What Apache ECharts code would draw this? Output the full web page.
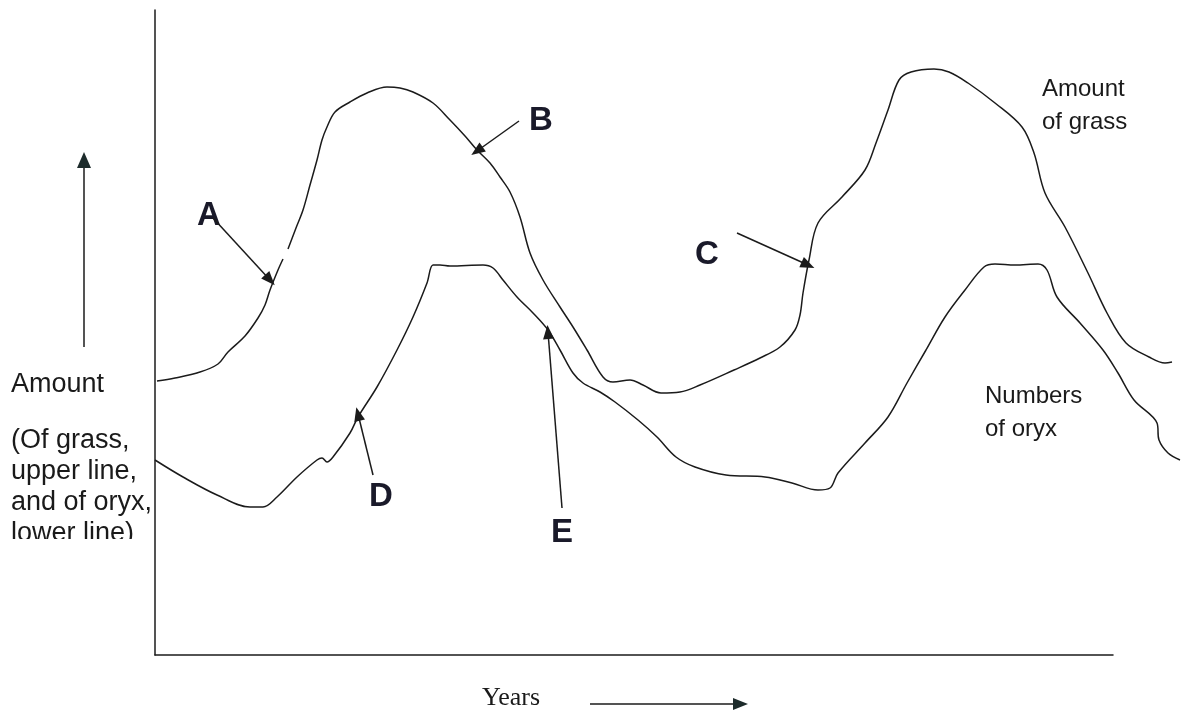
<!DOCTYPE html>
<html>
<head>
<meta charset="utf-8">
<title>Grass and oryx</title>
<script src="https://cdn.jsdelivr.net/npm/echarts@6/dist/echarts.min.js"></script>
<style>
  html, body { margin: 0; padding: 0; background: #fff; }
  #chart { width: 1181px; height: 713px; }
</style>
</head>
<body>
<div id="chart"></div>
<script>
// years run 0..1026, amount 0..645 (arbitrary units, no ticks on the sketch)
const grassX = [2, 20, 45, 63, 73, 90, 103, 110, 115, 123, 128, 130, 133, 141, 148, 155, 162, 167, 172, 180, 195, 212, 232, 245, 258, 278, 295, 310, 322, 335, 345, 355, 365, 375, 388, 405, 418, 432, 448, 458, 475, 488, 506, 525, 545, 579, 605, 625, 640, 645, 648, 654, 663, 687, 710, 721, 733, 744, 756, 779, 794, 813, 840, 867, 879, 890, 910, 933, 952, 971, 994, 1010, 1017];
const grassY = [274, 277, 283, 291, 303, 319, 337, 350, 365, 385, 396, null, 406, 427, 445, 470, 495, 515, 528, 543, 553, 562, 568, 567, 563, 552, 535, 519, 505, 492, 478, 463, 438, 402, 375, 348, 328, 305, 278, 273, 275, 270, 262, 263, 270, 285, 297, 308, 325, 340, 362, 395, 432, 458, 485, 512, 545, 575, 583, 586, 583, 572, 552, 528, 502, 462, 428, 382, 342, 312, 298, 292, 293];

const oryxX = [0, 28, 62, 95, 108, 122, 142, 162, 167, 172, 178, 195, 203, 222, 242, 258, 272, 278, 285, 295, 328, 338, 348, 362, 378, 393, 405, 418, 428, 445, 460, 483, 502, 521, 540, 571, 610, 637, 663, 675, 683, 710, 733, 752, 771, 790, 810, 829, 840, 860, 883, 892, 902, 925, 948, 963, 979, 1002, 1004, 1013, 1025];
const oryxY = [195, 178, 160, 148, 148, 158, 178, 195, 197, 193, 198, 222, 238, 268, 305, 338, 372, 390, 390, 389, 390, 387, 375, 358, 342, 325, 305, 282, 272, 263, 253, 235, 218, 198, 188, 180, 178, 172, 165, 167, 182, 212, 238, 272, 305, 338, 365, 388, 391, 390, 391, 385, 358, 332, 305, 282, 255, 232, 215, 202, 195];

// labelled arrows: A, B, C point at the grass line, D, E at the oryx line
const arrowNames = ["A", "B", "C", "D", "E"];
const arrowFrom = [[58, 437], [364, 534], [582, 422], [218, 180], [407, 147]];
const arrowTo = [[115, 375], [322, 504], [653, 390], [203, 241], [393, 323]];

const toPairs = (xs, ys) => xs.map((x, i) => [x, ys[i]]);

const ink = "#1b1b1b";
const chart = echarts.init(document.getElementById("chart"));

const arrowLines = (idx) => ({
  silent: true,
  symbol: ["none", "triangle"],
  symbolSize: [11, 14],
  label: { show: false },
  lineStyle: { color: ink, width: 1.5, type: "solid" },
  data: idx.map((i) => [{ coord: arrowFrom[i] }, { coord: arrowTo[i] }]),
});

const option = {
  animation: false,
  backgroundColor: "#fff",
  grid: [
    { left: 155, top: 10, width: 1026, height: 645 },
    { left: 155, top: 10, width: 958, height: 645 },
  ],
  xAxis: [
    { type: "value", gridIndex: 0, min: 0, max: 1026, show: false },
    {
      type: "value", gridIndex: 1, min: 0, max: 1,
      axisLine: { show: true, lineStyle: { color: ink, width: 1.5 } },
      axisTick: { show: false }, axisLabel: { show: false }, splitLine: { show: false },
    },
  ],
  yAxis: [
    { type: "value", gridIndex: 0, min: 0, max: 645, show: false },
    {
      type: "value", gridIndex: 1, min: 0, max: 1,
      axisLine: { show: true, lineStyle: { color: ink, width: 1.5 } },
      axisTick: { show: false }, axisLabel: { show: false }, splitLine: { show: false },
    },
  ],
  series: [
    {
      name: "Amount of grass",
      type: "line",
      data: toPairs(grassX, grassY),
      smooth: 0.35,
      showSymbol: false,
      connectNulls: false,
      silent: true,
      lineStyle: { color: ink, width: 1.5 },
      markLine: arrowLines([0, 1, 2]),
    },
    {
      name: "Numbers of oryx",
      type: "line",
      data: toPairs(oryxX, oryxY),
      smooth: 0.35,
      showSymbol: false,
      silent: true,
      lineStyle: { color: ink, width: 1.5 },
      markLine: arrowLines([3, 4]),
    },
  ],
};

chart.setOption(option);

// letters next to the tails of the arrows
const letterOffset = [[-4, -2], [22, 0], [-30, 22], [8, 22], [0, 25]];
const letters = arrowNames.map((name, i) => {
  const p = chart.convertToPixel({ gridIndex: 0 }, arrowFrom[i]);
  return {
    type: "text",
    x: p[0] + letterOffset[i][0],
    y: p[1] + letterOffset[i][1],
    style: {
      text: name,
      font: "bold 33px 'Liberation Sans', Arial, sans-serif",
      fill: "#1a1a2a",
      align: "center",
      verticalAlign: "middle",
    },
  };
});

const plain = (text, x, y, size) => ({
  type: "text",
  x, y,
  style: {
    text,
    font: size + "px 'Liberation Sans', Arial, sans-serif",
    fill: "#1a1a1a",
    align: "left",
    verticalAlign: "middle",
  },
});

chart.setOption({
  graphic: [
    ...letters,
    plain("Amount", 1042, 89, 24),
    plain("of grass", 1042, 122, 24),
    plain("Numbers", 985, 396, 24),
    plain("of oryx", 985, 429, 24),
    plain("Amount", 11, 385, 27),
    plain("(Of grass,", 11, 441, 27),
    plain("upper line,", 11, 472, 27),
    plain("and of oryx,", 11, 503, 27),
    plain("lower line)", 11, 534, 27),
    // the last line is cut off in the original sketch
    { type: "rect", shape: { x: 0, y: 539, width: 153, height: 40 }, style: { fill: "#fff" }, z: 100 },
    // amount arrow
    { type: "line", shape: { x1: 84, y1: 347, x2: 84, y2: 162 }, style: { stroke: ink, lineWidth: 1.5 } },
    { type: "polygon", shape: { points: [[84, 152], [77, 168], [91, 168]] }, style: { fill: "#1d2b2b" } },
    // years label and arrow
    {
      type: "text", x: 482, y: 698,
      style: { text: "Years", font: "26px 'Liberation Serif', 'DejaVu Serif', serif", fill: "#1a1a1a", align: "left", verticalAlign: "middle" },
    },
    { type: "line", shape: { x1: 590, y1: 704, x2: 736, y2: 704 }, style: { stroke: ink, lineWidth: 1.5 } },
    { type: "polygon", shape: { points: [[748, 704], [733, 698], [733, 710]] }, style: { fill: "#1d2b2b" } },
  ],
});

window.addEventListener("resize", () => chart.resize());
</script>
</body>
</html>
